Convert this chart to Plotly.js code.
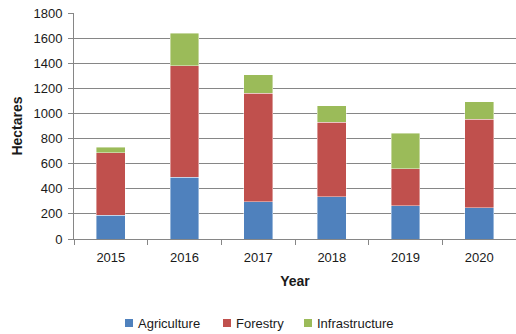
<!DOCTYPE html>
<html><head><meta charset="utf-8">
<script src="https://cdn.plot.ly/plotly-3.0.1.min.js"></script>
<style>html,body{margin:0;padding:0;background:#fff}#chart{width:516px;height:334px}</style>
</head><body><div id="chart"></div>
<script>
const years = ["2015","2016","2017","2018","2019","2020"];
const agriculture = [190, 490, 295, 335, 265, 250];
const forestry = [496, 890, 867, 595, 296, 704];
const infrastructure = [45, 260, 146, 133, 282, 138];
const seriesNames = ["Agriculture","Forestry","Infrastructure"];
const colors = ["#4F81BD","#C0504D","#9BBB59"];
const yTicks = [0,200,400,600,800,1000,1200,1400,1600,1800];

const data = [agriculture, forestry, infrastructure].map((v,i)=>({
  type:"bar", x:years, y:v, name:seriesNames[i],
  marker:{color:colors[i], line:{color:"rgba(255,255,255,0.6)", width:0.7}}
}));

// Manual legend (positions in pixels converted to paper coords)
const L=74, W=442, B=239, H=226;
const px = x => (x-L)/W, py = y => (B-y)/H;
const legendX = [125, 223, 304];
const legendY = 323;
const shapes = [], annotations = [];
seriesNames.forEach((n,i)=>{
  shapes.push({type:"rect", xref:"paper", yref:"paper", x0:px(legendX[i]), x1:px(legendX[i]+8),
    y0:py(legendY+4), y1:py(legendY-4), fillcolor:colors[i], line:{width:0}});
  annotations.push({xref:"paper", yref:"paper", x:px(legendX[i]+11), y:py(legendY), xanchor:"left", yanchor:"middle",
    text:n, showarrow:false, font:{size:13, color:"#1a1a1a"}});
});

const font = {family:"Liberation Sans, Arial, sans-serif", size:13, color:"#1a1a1a"};
const layout = {
  width:516, height:334, barmode:"stack", bargap:0.607,
  margin:{l:74, r:0, t:13, b:95},
  paper_bgcolor:"#fff", plot_bgcolor:"#fff", font:font,
  xaxis:{type:"category", tickson:"boundaries", ticks:"outside", ticklen:5, tickcolor:"#868686",
    showline:true, linecolor:"#868686", linewidth:1, showgrid:false, ticklabelstandoff:6,
    title:{text:"<b>Year</b>", font:{size:14}, standoff:12}},
  yaxis:{range:[0,1800], tickvals:yTicks, ticks:"outside", ticklen:5, tickcolor:"#868686",
    showline:true, linecolor:"#868686", gridcolor:"#868686", gridwidth:1, zeroline:false,
    ticklabelstandoff:3,
    title:{text:"<b>Hectares</b>", font:{size:14}, standoff:7}},
  shapes:shapes, annotations:annotations,
  showlegend:false
};
Plotly.newPlot("chart", data, layout, {displayModeBar:false, staticPlot:true});
</script></body></html>
